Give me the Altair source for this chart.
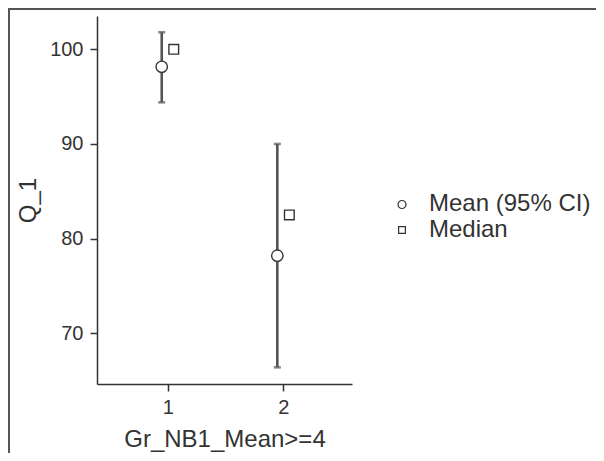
import altair as alt
import pandas as pd

# ---- data ----
groups = [1, 2]
means = [98.15, 78.2]
ci_low = [94.4, 66.4]
ci_high = [101.8, 90.0]
medians = [100.0, 82.5]

x_title = "Gr_NB1_Mean>=4"
y_title = "Q_1"
stat_labels = ["Mean (95% CI)", "Median"]
stat_shift = [-0.052, 0.052]   # dodge of each statistic, in x units

df = pd.DataFrame({"group": groups, "mean": means, "lo": ci_low, "hi": ci_high, "median": medians})
pts = pd.DataFrame({
    "group": groups + groups,
    "value": means + medians,
    "stat": [stat_labels[0]] * len(groups) + [stat_labels[1]] * len(groups),
    "shift": [stat_shift[0]] * len(groups) + [stat_shift[1]] * len(groups),
})
leg = pd.DataFrame({"stat": stat_labels})

FONT = "Liberation Sans"
TXT = "#333333"
BAR = "#555555"

x_scale = alt.Scale(domain=[0.388, 2.594], nice=False, zero=False)
x_axis = alt.Axis(values=[1, 2], format="d", title=x_title, grid=False,
                  tickSize=7, labelPadding=6, titlePadding=10)
y_scale = alt.Scale(domain=[64.64, 103.52], nice=False, zero=False)
y_axis = alt.Axis(values=[70, 80, 90, 100], title=y_title, grid=False,
                  tickSize=7, labelPadding=7, titlePadding=9)

square_path = "M-0.85,-0.85H0.85V0.85H-0.85Z"
shape_scale = alt.Scale(domain=stat_labels, range=["circle", square_path])

base = alt.Chart(df).transform_calculate(xm=f"datum.group + ({stat_shift[0]})")

err = base.mark_rule(color=BAR, strokeWidth=2.6).encode(
    x=alt.X("xm:Q", scale=x_scale, axis=x_axis),
    y=alt.Y("lo:Q", scale=y_scale, axis=y_axis), y2="hi:Q")
cap_lo = base.mark_tick(orient="horizontal", size=7, thickness=2.6, color=BAR).encode(
    x="xm:Q", y="lo:Q")
cap_hi = base.mark_tick(orient="horizontal", size=7, thickness=2.6, color=BAR).encode(
    x="xm:Q", y="hi:Q")

points = alt.Chart(pts).transform_calculate(xp="datum.group + datum.shift").mark_point(
    filled=False, color=TXT, fill="white", fillOpacity=1, strokeWidth=1.4, opacity=1, size=130
).encode(
    x="xp:Q", y="value:Q",
    shape=alt.Shape("stat:N", scale=shape_scale, legend=None),
)

# legend, drawn from the stat labels
legend_layers = []
for lab, ypix in zip(stat_labels, [188.5, 214]):
    lb = alt.Chart(leg).transform_filter(alt.datum.stat == lab)
    legend_layers.append(
        lb.mark_point(filled=False, color=TXT, fill="white", fillOpacity=1,
                      strokeWidth=1.2, opacity=1, size=64).encode(
            x=alt.value(305), y=alt.value(ypix),
            shape=alt.Shape("stat:N", scale=shape_scale, legend=None)))
    legend_layers.append(
        lb.mark_text(align="left", baseline="middle", font=FONT, fontSize=24, color=TXT).encode(
            x=alt.value(332), y=alt.value(ypix - 0.5), text="stat:N"))

one = alt.Chart(pd.DataFrame({"k": [0]}))
frame_top = one.mark_rule(color="#555555", strokeWidth=2).encode(
    x=alt.value(-88), x2=alt.value(499), y=alt.value(-7))
frame_left = one.mark_rule(color="#555555", strokeWidth=2).encode(
    x=alt.value(-88), y=alt.value(-8), y2=alt.value(437))

chart = alt.layer(err, cap_lo, cap_hi, points, *legend_layers, frame_top, frame_left).properties(
    width=255, height=368,
    autosize=alt.AutoSizeParams(type="none"),
    padding={"left": 89, "top": 8, "right": 244, "bottom": 69},
    background="white",
).configure_view(stroke=None).configure_axis(
    labelFont=FONT, titleFont=FONT, labelColor=TXT, titleColor=TXT,
    labelFontSize=20, titleFontSize=24,
    titleFontWeight="normal", domainColor=TXT, tickColor=TXT,
    domainWidth=1.5, tickWidth=1.5,
)

chart.save("out.html", embed_options={"renderer": "svg", "actions": False})
